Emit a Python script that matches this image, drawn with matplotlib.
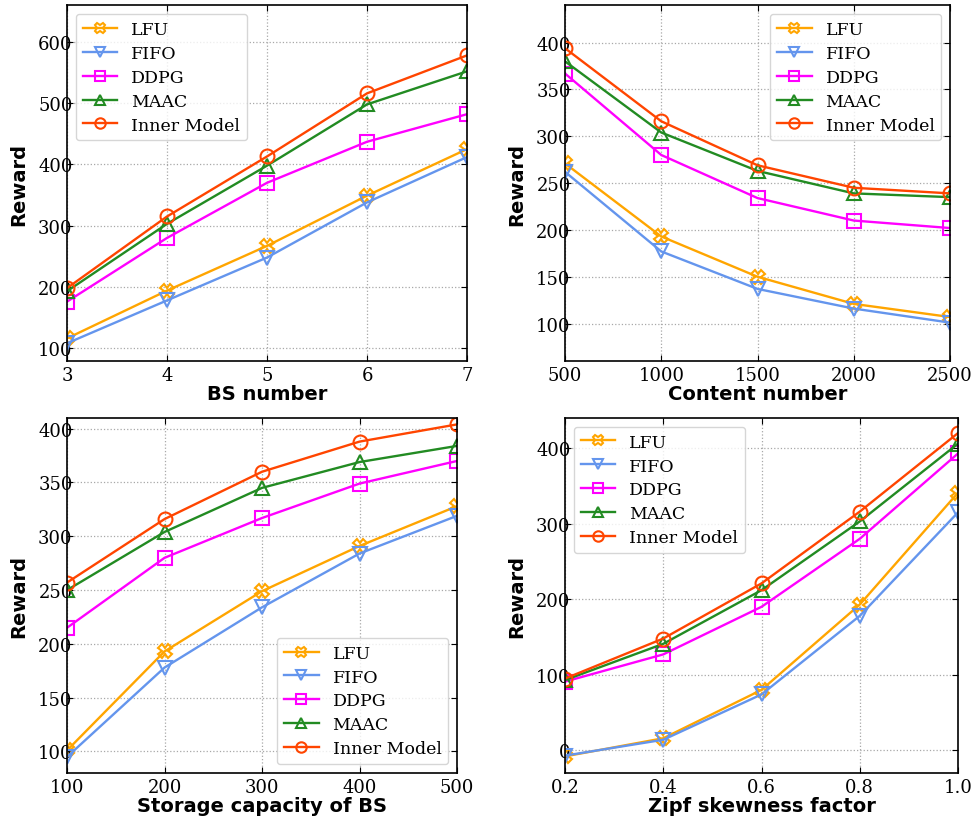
import numpy as np
import matplotlib
matplotlib.use("Agg")
import matplotlib.pyplot as plt

methods = ["LFU", "FIFO", "DDPG", "MAAC", "Inner Model"]
colors = ["#FFA500", "#6495ED", "#FF00FF", "#228B22", "#FF4500"]
markers = ["X", "v", "s", "^", "o"]

bs_number = [3, 4, 5, 6, 7]
bs_reward = [
    [116, 194, 267, 349, 425],
    [108, 178, 248, 338, 412],
    [176, 280, 370, 437, 482],
    [193, 303, 398, 498, 552],
    [198, 315, 413, 516, 578],
]

content_number = [500, 1000, 1500, 2000, 2500]
content_reward = [
    [271, 193, 150, 121, 107],
    [262, 177, 137, 116, 101],
    [367, 280, 234, 210, 202],
    [380, 304, 263, 239, 235],
    [394, 316, 269, 245, 239],
]

storage = [100, 200, 300, 400, 500]
storage_reward = [
    [101, 193, 249, 291, 328],
    [95, 178, 234, 284, 319],
    [215, 280, 317, 349, 370],
    [250, 304, 345, 369, 384],
    [257, 316, 360, 388, 404],
]

zipf = [0.2, 0.4, 0.6, 0.8, 1.0]
zipf_reward = [
    [-8, 16, 80, 193, 341],
    [-7, 14, 74, 178, 315],
    [91, 127, 190, 280, 393],
    [93, 141, 212, 303, 406],
    [95, 148, 221, 316, 420],
]

fig = plt.figure(figsize=(9.73, 8.2), dpi=100)

panels = [
    ([0.0689, 0.5585, 0.4111, 0.4340], bs_number, bs_reward, "BS number", (79, 660), [100, 200, 300, 400, 500, 600], "upper left"),
    ([0.5807, 0.5585, 0.3957, 0.4340], content_number, content_reward, "Content number", (60, 440), [100, 150, 200, 250, 300, 350, 400], "upper right"),
    ([0.0689, 0.0561, 0.4008, 0.4330], storage, storage_reward, "Storage capacity of BS", (80, 410), [100, 150, 200, 250, 300, 350, 400], "lower right"),
    ([0.5807, 0.0561, 0.4039, 0.4330], zipf, zipf_reward, "Zipf skewness factor", (-30, 440), [0, 100, 200, 300, 400], "upper left"),
]

for rect, xs, ys, xlabel, ylim, yticks, loc in panels:
    ax = fig.add_axes(rect)
    for name, c, m, y in zip(methods, colors, markers, ys):
        ax.plot(xs, y, color=c, marker=m, markersize=10, markerfacecolor="none",
                markeredgewidth=1.5, linewidth=1.7, label=name)
    ax.set_xlim(xs[0], xs[-1])
    ax.set_ylim(*ylim)
    ax.set_xticks(xs)
    ax.set_yticks(yticks)
    if isinstance(xs[0], float):
        ax.set_xticklabels([f"{v:.1f}" for v in xs])
    ax.grid(True, linestyle=":", color="#a8a8a8", linewidth=0.9)
    ax.tick_params(direction="in", top=True, right=True, labelsize=13, length=4)
    ax.tick_params(axis="y", pad=-4)
    for lab in ax.get_xticklabels() + ax.get_yticklabels():
        lab.set_family("DejaVu Serif")
    for s in ax.spines.values():
        s.set_linewidth(1.2)
    ax.set_xlabel(xlabel, fontsize=14, fontweight="bold", labelpad=0)
    ax.set_ylabel("Reward", fontsize=14, fontweight="bold", labelpad=7)
    ax.legend(loc=loc, prop={"family": "DejaVu Serif", "size": 12.5},
              labelspacing=0.4, handletextpad=0.8, markerscale=0.75)

plt.savefig("out.png", dpi=100)
